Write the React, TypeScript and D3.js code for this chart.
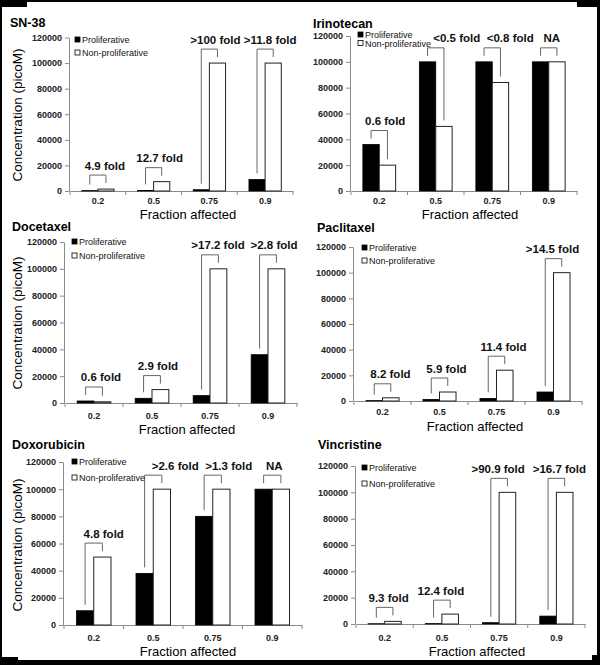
import React, { useEffect, useRef } from 'react';
import * as d3 from 'd3';

// Categories and axis ticks shared by all six panels
const fractions = ['0.2', '0.5', '0.75', '0.9'];
const yTicks = [0, 20000, 40000, 60000, 80000, 100000, 120000];
const seriesNames = ['Proliferative', 'Non-proliferative'];

// Concentrations (picoM)
const sn38Prolif = [300, 400, 1000, 9000];
const sn38NonProlif = [1500, 7300, 100000, 100000];
const sn38Folds = ['4.9 fold', '12.7 fold', '>100 fold', '>11.8 fold'];

const irinoProlif = [36000, 100000, 100000, 100000];
const irinoNonProlif = [20000, 50000, 84000, 100000];
const irinoFolds = ['0.6 fold', '<0.5 fold', '<0.8 fold', 'NA'];

const doceProlif = [1500, 3500, 5500, 36000];
const doceNonProlif = [900, 10000, 100000, 100000];
const doceFolds = ['0.6 fold', '2.9 fold', '>17.2 fold', '>2.8 fold'];

const pacliProlif = [300, 1200, 2000, 7000];
const pacliNonProlif = [2500, 7000, 24000, 100000];
const pacliFolds = ['8.2 fold', '5.9 fold', '11.4 fold', '>14.5 fold'];

const doxoProlif = [10500, 38000, 80000, 100000];
const doxoNonProlif = [50000, 100000, 100000, 100000];
const doxoFolds = ['4.8 fold', '>2.6 fold', '>1.3 fold', 'NA'];

const vincProlif = [200, 300, 1000, 6000];
const vincNonProlif = [2000, 7500, 100000, 100000];
const vincFolds = ['9.3 fold', '12.4 fold', '>90.9 fold', '>16.7 fold'];

const panels = [
    { title: 'SN-38', prolif: sn38Prolif, nonProlif: sn38NonProlif, folds: sn38Folds },
    { title: 'Irinotecan', prolif: irinoProlif, nonProlif: irinoNonProlif, folds: irinoFolds },
    { title: 'Docetaxel', prolif: doceProlif, nonProlif: doceNonProlif, folds: doceFolds },
    { title: 'Paclitaxel', prolif: pacliProlif, nonProlif: pacliNonProlif, folds: pacliFolds },
    { title: 'Doxorubicin', prolif: doxoProlif, nonProlif: doxoNonProlif, folds: doxoFolds },
    { title: 'Vincristine', prolif: vincProlif, nonProlif: vincNonProlif, folds: vincFolds },
];

// Where each panel sits on the page
const layouts = [
    { xr: [70, 293], ax: 69, yb: 191, yt: 37.5, title: [10, 27], leg: [75, 40, 13], yLab: 115, xLab: [188, 218.5], pad: 7, nudge: [7, 6, 6, 5] },
    { xr: [351, 577], ax: 350, yb: 191, yt: 36, title: [313, 28], leg: [358, 35, 8.5], yLab: null, xLab: [470, 218.5], pad: 7, nudge: [6, 21, 18, 3] },
    { xr: [65, 297], ax: 64, yb: 403, yt: 242, title: [12, 231], leg: [72, 242, 14], yLab: 323, xLab: [187, 434], pad: 10, nudge: [7, 6, 8, 6] },
    { xr: [354, 582], ax: 353, yb: 401, yt: 247, title: [317, 232], leg: [362, 248, 13], yLab: null, xLab: [475, 430.5], pad: 7.6, nudge: [8, 7, 7, -1] },
    { xr: [64, 302], ax: 63, yb: 625, yt: 462, title: [12, 449], leg: [72, 462, 16], yLab: 545, xLab: [188, 656], pad: 9.6, nudge: [10, 22, 16, 2] },
    { xr: [356, 585], ax: 355, yb: 624, yt: 466, title: [318, 449], leg: [362, 468, 16], yLab: null, xLab: [477, 656], pad: 10.6, nudge: [4, -1, -1, 3] },
];

const FONT = "Arial, 'Liberation Sans', sans-serif";

const App = () => {
    const svgRef = useRef<SVGSVGElement>(null);

    useEffect(() => {
        const svg = d3.select(svgRef.current);
        svg.selectAll('*').remove();

        // black frame around the white sheet
        svg.append('rect').attr('width', 600).attr('height', 665).attr('fill', '#000');
        svg.append('rect').attr('x', 2).attr('y', 2).attr('width', 595).attr('height', 658).attr('fill', '#fff');
        [[0, 0, 27, 7], [577, 0, 23, 7], [0, 657, 18, 8], [592, 655, 8, 10]].forEach(([x, y, w, h]) => {
            svg.append('rect').attr('x', x).attr('y', y).attr('width', w).attr('height', h).attr('fill', '#000');
        });

        panels.forEach((p, i) => {
            const L = layouts[i];
            const g = svg.append('g').attr('font-family', FONT);

            const x = d3.scaleBand().domain(fractions).range(L.xr as [number, number]);
            const y = d3.scaleLinear().domain([0, 120000]).range([L.yb, L.yt]);
            const bw = x.bandwidth() * 0.29;
            const cx = (f: string) => (x(f) as number) + x.bandwidth() / 2;

            // y axis
            const yAxis = g.append('g')
                .attr('transform', `translate(${L.ax},0)`)
                .call(d3.axisLeft(y).tickValues(yTicks).tickSize(4).tickSizeOuter(0).tickPadding(3).tickFormat(d3.format('d')));
            yAxis.select('.domain').attr('stroke', '#8a8a8a');
            yAxis.selectAll('line').attr('stroke', '#8a8a8a');
            yAxis.selectAll('text').attr('font-family', FONT).attr('font-size', 9).attr('font-weight', 'bold').attr('fill', '#222');

            // x axis (labels at category centres, ticks between categories)
            const xAxis = g.append('g')
                .attr('transform', `translate(0,${L.yb})`)
                .call(d3.axisBottom(x).tickSize(0).tickPadding(L.pad));
            xAxis.select('.domain').attr('stroke', '#8a8a8a');
            xAxis.selectAll('text').attr('font-family', FONT).attr('font-size', 9).attr('font-weight', 'bold').attr('fill', '#222');
            const bounds = [L.xr[0], ...fractions.map(f => (x(f) as number) + x.bandwidth())];
            g.selectAll('.xt').data(bounds).enter().append('line')
                .attr('x1', d => d).attr('x2', d => d)
                .attr('y1', L.yb).attr('y2', L.yb + 4)
                .attr('stroke', '#8a8a8a');

            // bars
            g.selectAll('.bp').data(p.prolif).enter().append('rect')
                .attr('x', (d, j) => cx(fractions[j]) - bw)
                .attr('y', d => y(d))
                .attr('width', bw)
                .attr('height', d => L.yb - y(d))
                .attr('fill', '#000')
                .attr('stroke', '#000')
                .attr('stroke-width', 0.8);
            g.selectAll('.bn').data(p.nonProlif).enter().append('rect')
                .attr('x', (d, j) => cx(fractions[j]))
                .attr('y', d => y(d))
                .attr('width', bw)
                .attr('height', d => L.yb - y(d))
                .attr('fill', '#fff')
                .attr('stroke', '#222')
                .attr('stroke-width', 1);

            // fold-change brackets and labels
            fractions.forEach((f, j) => {
                const top = Math.min(y(p.prolif[j]), y(p.nonProlif[j])) - 14;
                const lx = cx(f) - bw / 2;
                const rx = cx(f) + bw / 2;
                g.append('path')
                    .attr('d', `M${lx},${y(p.prolif[j]) - 6}V${top}H${rx}V${y(p.nonProlif[j]) - 6}`)
                    .attr('fill', 'none')
                    .attr('stroke', '#666')
                    .attr('stroke-width', 1);
                g.append('text')
                    .attr('x', cx(f) + L.nudge[j])
                    .attr('y', top - 5.5)
                    .attr('text-anchor', 'middle')
                    .attr('font-size', 11.5)
                    .attr('font-weight', 'bold')
                    .attr('fill', '#111')
                    .text(p.folds[j]);
            });

            // legend
            seriesNames.forEach((name, k) => {
                const ly = L.leg[1] + k * L.leg[2];
                g.append('rect')
                    .attr('x', L.leg[0]).attr('y', ly - 3)
                    .attr('width', 5).attr('height', 5)
                    .attr('fill', k === 0 ? '#000' : '#fff')
                    .attr('stroke', '#000').attr('stroke-width', 0.8);
                g.append('text')
                    .attr('x', L.leg[0] + 7).attr('y', ly + 3)
                    .attr('font-size', 9)
                    .attr('fill', '#111')
                    .text(name);
            });

            // titles
            g.append('text')
                .attr('x', L.title[0]).attr('y', L.title[1])
                .attr('font-size', 12.5).attr('font-weight', 'bold')
                .text(p.title);
            g.append('text')
                .attr('x', L.xLab[0]).attr('y', L.xLab[1])
                .attr('text-anchor', 'middle')
                .attr('font-size', 13)
                .text('Fraction affected');
            if (L.yLab !== null) {
                g.append('text')
                    .attr('transform', `translate(22,${L.yLab}) rotate(-90)`)
                    .attr('text-anchor', 'middle')
                    .attr('font-size', 13.5)
                    .text('Concentration (picoM)');
            }
        });
    }, []);

    return <svg ref={svgRef} width={600} height={665} style={{ position: 'absolute', left: 0, top: 0 }}></svg>;
};

export default App;
